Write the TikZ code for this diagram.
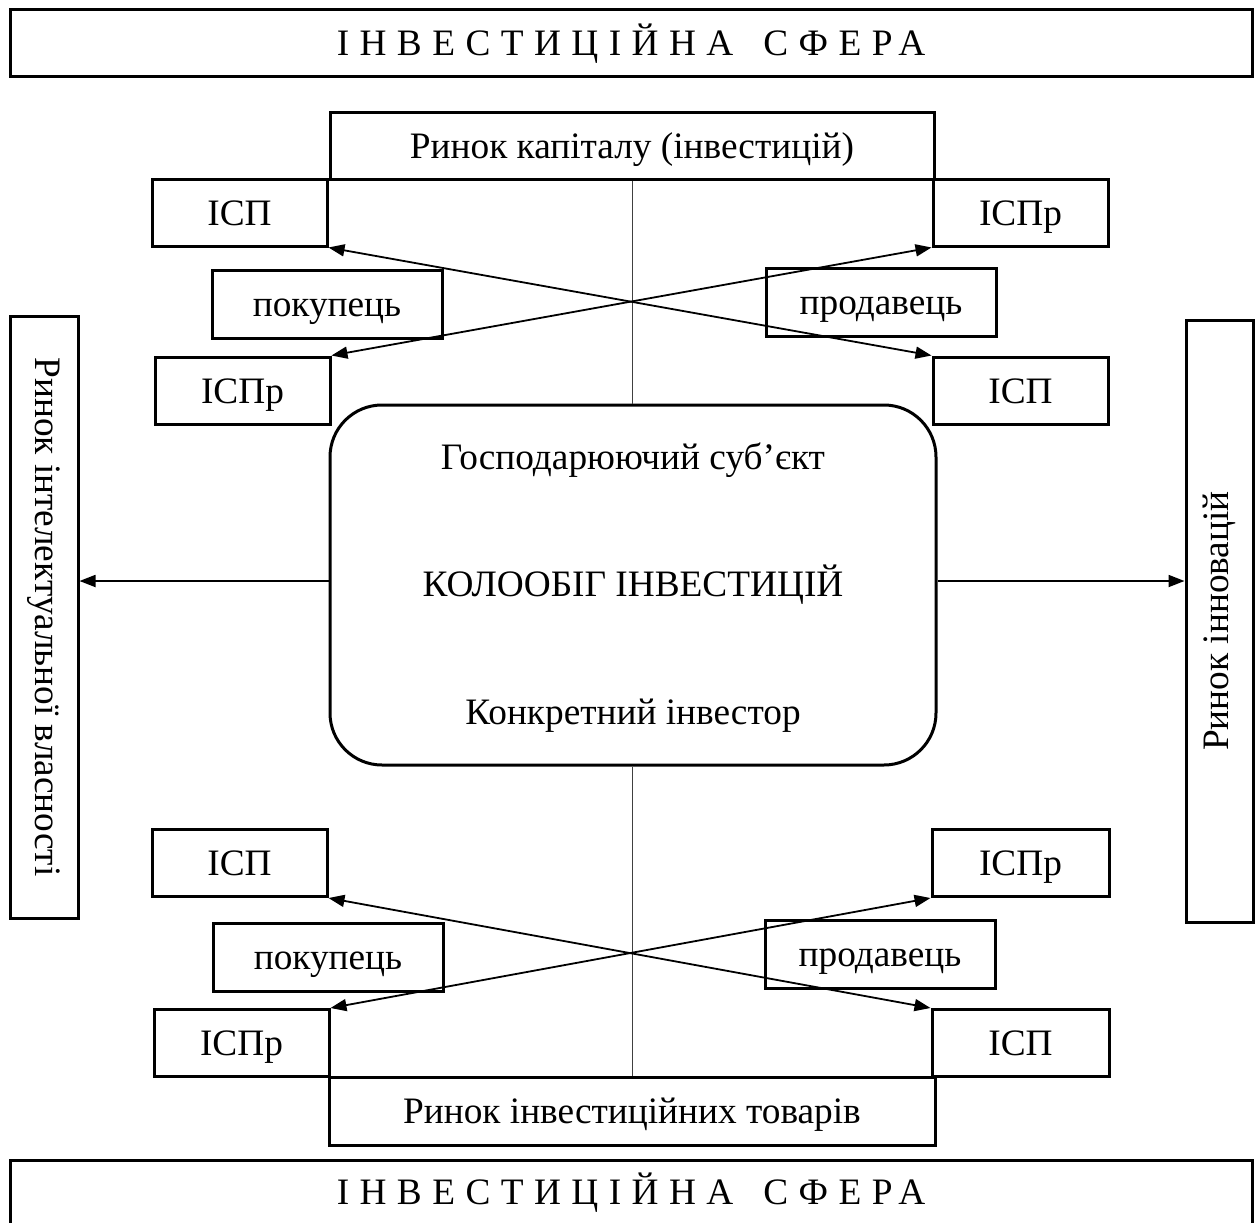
\documentclass[tikz,border=0pt]{standalone}
\usepackage{fontspec}
\setmainfont{Liberation Serif}
\newfontfamily\spacedfont[LetterSpace=28]{Liberation Serif}
\usetikzlibrary{arrows.meta}
\begin{document}
\begin{tikzpicture}[x=1pt,y=-1pt,
  fnt/.style={font=\fontsize{37.3}{40}\selectfont},
  box/.style={draw, line width=3pt, inner sep=0pt, fnt, text height=33pt, text depth=8pt},
  smallbox/.style={box, minimum width=175pt, minimum height=67pt},
  rolebox/.style={box, minimum width=230pt, minimum height=68pt},
  txt/.style={inner sep=0pt, fnt},
  dbl/.style={line width=1.8pt, {Triangle[length=16pt,width=12pt]}-{Triangle[length=16pt,width=12pt]}},
  arr/.style={line width=1.8pt, -{Triangle[length=16pt,width=12pt]}},
  thin/.style={line width=0.9pt, black!75}]
\useasboundingbox (0,0) rectangle (1259,1223);

% top sphere
\node[box, minimum width=1242pt, minimum height=67pt] (sphT) at (631,43.5)
  {\spacedfont ІНВЕСТИЦІЙНА\hspace{30pt}СФЕРА};

% capital market block
\node[box, minimum width=604pt, minimum height=67pt] (capM) at (632,145.5) {Ринок капіталу (інвестицій)};
\node[smallbox] (ispTL) at (239.5,212.5) {ІСП};
\node[rolebox] (pokT) at (327,304) {покупець};
\node[smallbox] (isprL) at (242.5,390.5) {ІСПр};
\node[smallbox] (isprTR) at (1020.5,212.5) {ІСПр};
\node[rolebox] (prodT) at (881,302) {продавець};
\node[smallbox] (ispR) at (1020.5,390.5) {ІСП};

% centre
\node[box, rounded corners=52pt, minimum width=606pt, minimum height=360pt] (c) at (633,585) {};
\node[txt] (c1) at (633,460) {Господарюючий суб’єкт};
\node[txt] (c2) at (633,585) {КОЛООБІГ ІНВЕСТИЦІЙ};
\node[txt] (c3) at (633,716) {Конкретний інвестор};

% side markets
\node[box, minimum width=68pt, minimum height=602pt] (left) at (44,617) {};
\node[txt, rotate=-90] (leftT) at (left.center) {Ринок інтелектуальної власності};
\node[box, minimum width=67pt, minimum height=602pt] (right) at (1219.5,621) {};
\node[txt, rotate=90] (rightT) at (right.center) {Ринок інновацій};

% investment goods market block
\node[smallbox] (ispBL) at (239.5,863) {ІСП};
\node[rolebox] (pokB) at (328,957) {покупець};
\node[smallbox] (isprBL) at (241.5,1043) {ІСПр};
\node[smallbox, minimum width=177pt] (isprBR) at (1020.5,863) {ІСПр};
\node[rolebox] (prodB) at (880,954) {продавець};
\node[smallbox, minimum width=177pt] (ispBR) at (1020.5,1043) {ІСП};
\node[box, minimum width=606pt, minimum height=68pt] (invM) at (632,1111) {Ринок інвестиційних товарів};

% bottom sphere (cut by the page edge)
\node[box, minimum width=1242pt, minimum height=80pt] (sphB) at (631,1200) {};
\node[txt] (sphBT) at (631,1193) {\spacedfont ІНВЕСТИЦІЙНА\hspace{30pt}СФЕРА};

% connectors
\draw[thin] (capM.south) -- (capM.south |- c.north);
\draw[thin] (invM.north |- c.south) -- (invM.north);
\draw[dbl] (ispTL.south east) -- (ispR.north west);
\draw[dbl] (isprTR.south west) -- (isprL.north east);
\draw[dbl] (ispBL.south east) -- (ispBR.north west);
\draw[dbl] (isprBR.south west) -- (isprBL.north east);
\draw[arr] ([yshift=4pt]c.west) -- ([yshift=4pt]c.west -| left.east);
\draw[arr] ([yshift=4pt]c.east) -- ([yshift=4pt]c.east -| right.west);
\end{tikzpicture}
\end{document}
